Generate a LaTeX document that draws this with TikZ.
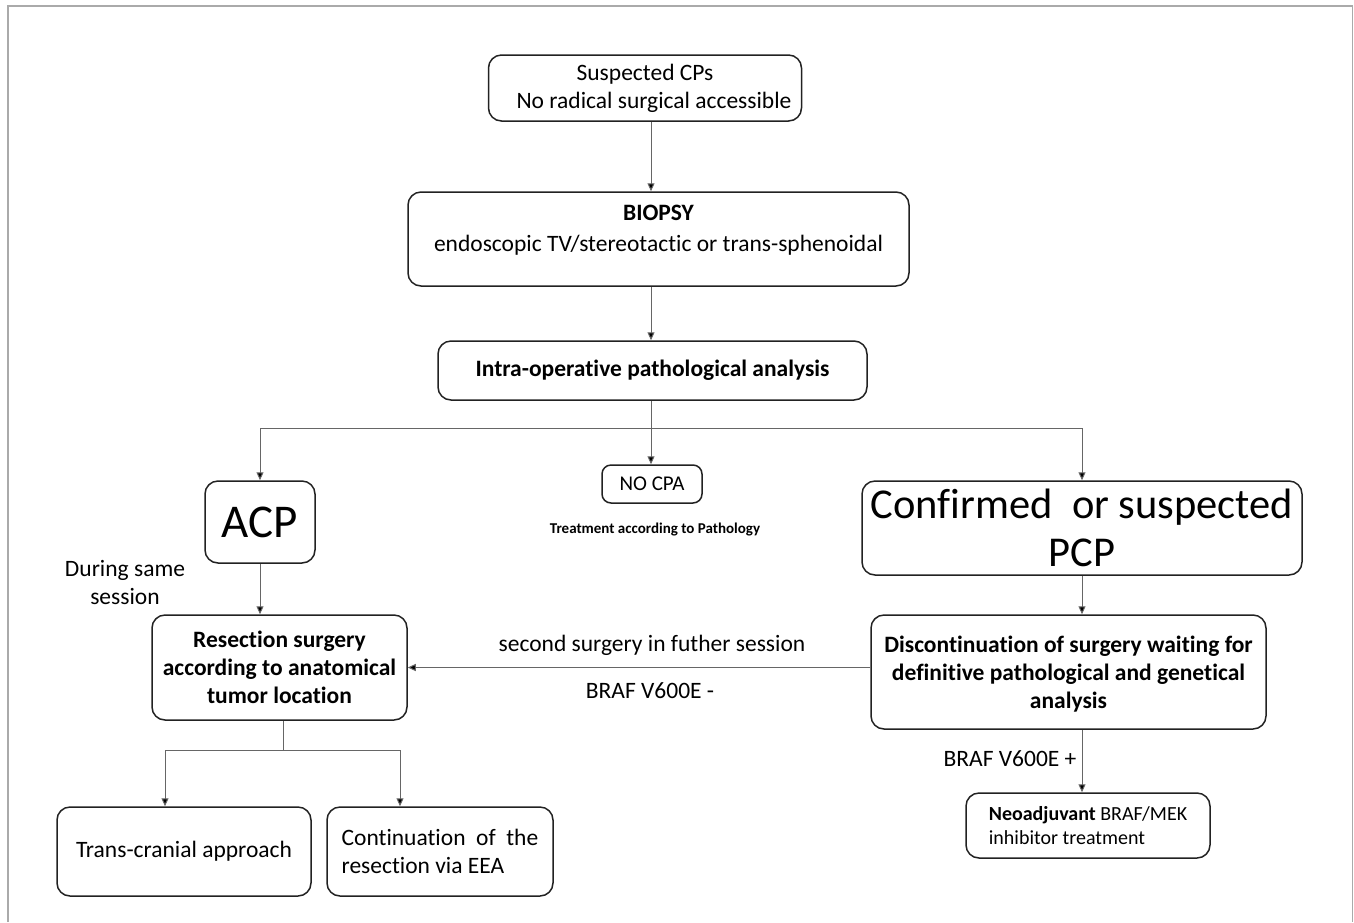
\documentclass[tikz,border=0pt]{standalone}
\usepackage{fontspec}
\setmainfont{Carlito}[Ligatures=NoCommon]
\usetikzlibrary{arrows.meta}
\definecolor{boxline}{HTML}{222222}
\definecolor{connline}{HTML}{666666}
\definecolor{frameline}{HTML}{AAAAAA}
\newcommand\fnorm{\fontsize{23.5}{28}\selectfont}
\newcommand\fneo{\fontsize{20}{24}\selectfont}
\newcommand\fsmall{\fontsize{15}{18}\selectfont}
\newcommand\fbig{\fontsize{42.5}{48}\selectfont}
\newcommand\fhuge{\fontsize{47}{52}\selectfont}
\tikzset{
  box/.style={draw=boxline, line width=1.5pt, rounded corners=13pt, align=center,
    inner sep=0pt, font=\fnorm},
  conn/.style={draw=connline, line width=1pt},
  arr/.style={conn, -{Triangle[length=8pt,width=7pt,fill=black]}},
  lbl/.style={inner sep=0pt, font=\fnorm, align=center}
}
\begin{document}
\begin{tikzpicture}[x=1pt,y=-1pt]
\useasboundingbox (0,0) rectangle (1354,922);
% outer frame
\draw[frameline, line width=1.5pt] (8,922) -- (8,6) -- (1352.5,6) -- (1352.5,922);

\coordinate (spine) at (651,0);

\node[box, minimum width=313pt, minimum height=66pt] (top) at (645,88)
  {Suspected CPs\hspace{18pt}\\\hspace{18pt}No radical surgical accessible};
\node[box, minimum width=501pt, minimum height=94pt, text depth=22pt] (biopsy) at (658.5,239)
  {\textbf{BIOPSY}\\[3pt]endoscopic TV/stereotactic or trans-sphenoidal};
\node[box, minimum width=429pt, minimum height=59pt, font=\fnorm\bfseries] (intra) at (652.5,370.5)
  {Intra-operative pathological analysis};
\node[box, minimum width=110pt, minimum height=82pt, font=\fhuge] (acp) at (260,522) {ACP};
\node[box, minimum width=100pt, minimum height=38pt, font=\fontsize{21}{25}\selectfont, rounded corners=9pt] (nocpa) at (652,484) {NO CPA};
\node[lbl, font=\fsmall\bfseries] (treat) at (655,529) {Treatment according to Pathology};
\node[box, minimum width=440pt, minimum height=94pt, font=\fbig] (conf) at (1082,528)
  {Confirmed~~or suspected\\PCP};
\node[box, minimum width=255pt, minimum height=105pt, font=\fnorm\bfseries] (res) at (279.5,667.5)
  {Resection surgery\\according to anatomical\\tumor location};
\node[box, minimum width=395pt, minimum height=114pt, font=\fnorm\bfseries, text depth=0pt] (disc) at (1068.5,672)
  {Discontinuation of surgery waiting for\\definitive pathological and genetical\\analysis};
\node[box, minimum width=244pt, minimum height=65pt, font=\fneo, align=left] (neo) at (1088,825.5)
  {\textbf{Neoadjuvant} BRAF/MEK\\inhibitor treatment};
\node[box, minimum width=254pt, minimum height=89pt] (trans) at (184,851.5)
  {Trans-cranial approach};
\node[box, minimum width=226pt, minimum height=89pt, align=left] (cont) at (440,851.5)
  {Continuation~ of~ the\\resection via EEA};

% labels
\node[lbl] (same) at (125,582) {During same\\session};
\node[lbl] (second) at (652,645) {second surgery in futher session};
\node[lbl] (brafneg) at (650,691) {BRAF V600E -};
\node[lbl] (brafpos) at (1010,759) {BRAF V600E +};

% connectors
\draw[arr] (top.south -| spine) -- (biopsy.north -| spine);
\draw[arr] (biopsy.south -| spine) -- (intra.north -| spine);
\coordinate (jn) at (651,428);
\draw[conn] (intra.south -| spine) -- (jn);
\draw[conn] (acp.north |- jn) -- (conf.north |- jn);
\draw[arr] (acp.north |- jn) -- (acp.north);
\draw[arr] (jn) -- (nocpa.north -| jn);
\draw[arr] (conf.north |- jn) -- (conf.north);

\draw[arr] (acp.south) -- (acp.south |- res.north);
\draw[arr] (conf.south) -- (conf.south |- disc.north);
\draw[arr] (disc.west |- res.east) -- (res.east);
\draw[arr] (disc.south -| conf.south) -- (neo.north -| conf.south);

\coordinate (rj) at (283,750);
\coordinate (ta) at (165,750);
\coordinate (ca) at (400,750);
\draw[conn] (res.south -| rj) -- (rj);
\draw[conn] (ta) -- (ca);
\draw[arr] (ta) -- (ta |- trans.north);
\draw[arr] (ca) -- (ca |- cont.north);
\end{tikzpicture}
\end{document}
